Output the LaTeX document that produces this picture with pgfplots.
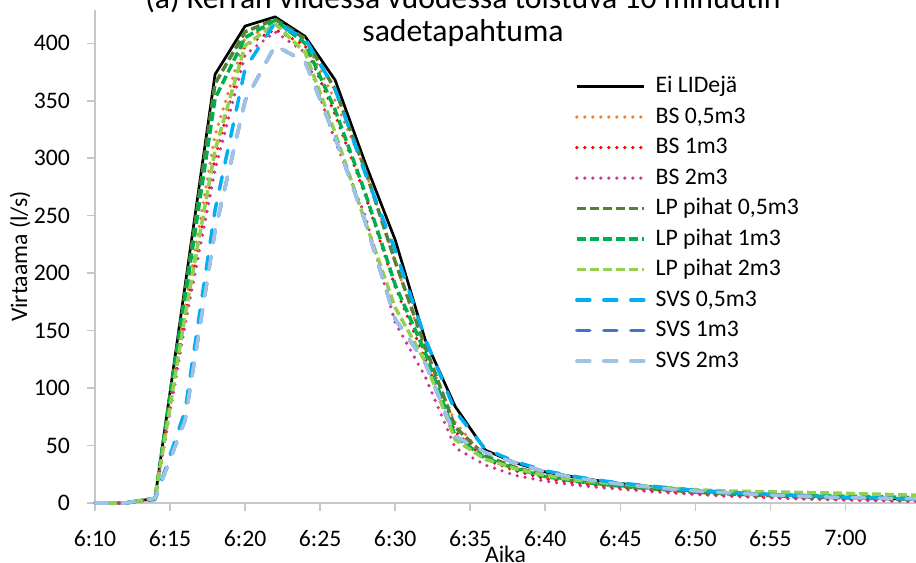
\documentclass[border=0pt]{standalone}
\usepackage{fontspec}
\setmainfont{Carlito}
\usepackage{pgfplots}
\pgfplotsset{compat=1.18}
\usepackage{pgfplotstable}

\definecolor{bsorange}{HTML}{ED7D31}
\definecolor{bsred}{HTML}{FF0000}
\definecolor{bspink}{HTML}{CC3399}
\definecolor{lpdark}{HTML}{548235}
\definecolor{lpgreen}{HTML}{00B050}
\definecolor{lplight}{HTML}{92D050}
\definecolor{svscyan}{HTML}{00B0F0}
\definecolor{svsblue}{HTML}{4472C4}
\definecolor{svslight}{HTML}{9DC3E6}

\newcommand{\axfont}{\fontsize{11.85bp}{14bp}\selectfont}
\newcommand{\ttlfont}{\fontsize{15.85bp}{18bp}\selectfont}

% t = minutes after 6:10
\pgfplotstableread{
t  ei   bs05 bs1  bs2  lp05 lp1  lp2  svs05 svs1 svs2
0  0    0    0    0    0    0    0    0     0    0
2  0    0    0    0    0    0    0    0     0    0
4  4    4    4    4    4    4    4    3     4    4
6  189  170  162  155  183  178  163  80    72   72
8  373  320  300  290  365  352  307  255   237  237
10 415  405  398  390  410  405  398  378   350  350
12 423  416  412  410  421  420  417  418   398  398
14 406  403  398  392  404  400  392  404   384  384
16 368  350  338  315  360  342  322  360   318  318
18 296  290  268  250  290  270  245  287   245  245
20 229  210  188  157  210  190  170  220   160  160
22 142  132  125  110  136  131  123  143   122  122
24 84   70   62   48   66   58   55   80    58   58
26 46   40   38   33   41   39   38   47    44   44
28 35   29   28   24   31   30   30   36    35   35
30 27   22   21   19   24   23   24   28    27   27
32 22.5 18   17   15.5 19.5 19   20   23    22   22
34 18.5 15   14   13   16   16   17.5 19    18   18
36 15.5 12.5 12   11   13.5 14   15.5 16    15   15
38 13   10.5 10   9    11.5 12   13.5 13.5  12.5 12.5
40 10.5 8.5  8    7.5  9.5  10.5 11.5 11    10.5 10.5
42 9    7    6.5  6    8    9    10.5 9.5   9    9
44 7.8  6    5.5  5    7    8    10   8     7.5  7.5
46 6.7  5    4.5  4    6    7    9.5  7     6.5  6.5
48 5.8  4    3.7  3.2  5    6.5  9    6     5.5  5.5
50 5    3.5  3    2.6  4.5  6    8.4  5     4.8  4.8
52 4.2  3    2.5  2    4    5.5  7.7  4.3   4.2  4.2
54 3.5  2.5  2    1.5  3.5  5    7    3.7   3.8  3.8
56 3    2    1.6  1.2  3    4.6  6.5  3.2   3.3  3.3
}\flow

\tikzset{
  eistyle/.style={black, line width=1.35bp, line join=round},
  bsstyle/.style={line width=1.8bp, line cap=round, line join=round, dash pattern=on 0bp off 4bp},
  lpstyle/.style={line width=1.75bp, line join=round, dash pattern=on 4.5bp off 2bp},
  svsstyle/.style={line width=1.75bp, line cap=round, line join=round, dash pattern=on 6.5bp off 7bp},
}

\begin{document}
\begin{tikzpicture}
\begin{axis}[
    at={(0,0)}, anchor=south west,
    scale only axis,
    width=410.5bp, height=246.5bp,
    xmin=0, xmax=54.7, ymin=0, ymax=429,
    clip=false,
    axis lines*=left,
    axis line style={draw=black!22, line width=0.8bp},
    tick style={draw=black!22, line width=0.8bp},
    tick align=outside,
    major tick length=4bp,
    xtick={0,5,...,50},
    xticklabels={6:10,6:15,6:20,6:25,6:30,6:35,6:40,6:45,6:50,6:55,7:00},
    ytick={0,50,...,400},
    /pgf/number format/assume math mode=true,
    tick label style={font=\axfont},
    xticklabel style={yshift=-6bp},
    yticklabel style={xshift=-5bp},
    xlabel={Aika},
    ylabel={Virtaama (l/s)},
    label style={font=\axfont},
    xlabel style={at={(axis description cs:0.5,0)}, anchor=center, yshift=-25.5bp},
    ylabel style={at={(axis description cs:-0.0913,0.5)}, anchor=center},
    legend cell align=left,
    legend image code/.code={\draw[#1] (0bp,0bp) -- (33.5bp,0bp); \path (38.5bp,0bp);},
    legend style={at={(0.5847,0.867)}, anchor=north west, draw=none, fill=none,
                  inner sep=0pt, outer sep=0pt, row sep=4.25bp, font=\axfont,
                  nodes={inner sep=0pt, text height=8.5bp, text depth=2.5bp}},
]
\addplot[eistyle] table[x=t,y=ei]{\flow};
\addplot[bsstyle, bsorange] table[x=t,y=bs05]{\flow};
\addplot[bsstyle, bsred] table[x=t,y=bs1]{\flow};
\addplot[bsstyle, bspink] table[x=t,y=bs2]{\flow};
\addplot[lpstyle, lpdark] table[x=t,y=lp05]{\flow};
\addplot[lpstyle, lpgreen] table[x=t,y=lp1]{\flow};
\addplot[lpstyle, lplight] table[x=t,y=lp2]{\flow};
\addplot[svsstyle, svscyan] table[x=t,y=svs05]{\flow};
\addplot[svsstyle, svsblue] table[x=t,y=svs1]{\flow};
\addplot[svsstyle, svslight] table[x=t,y=svs2]{\flow};
\legend{Ei LIDejä, {BS 0,5m3}, BS 1m3, BS 2m3, {LP pihat 0,5m3}, LP pihat 1m3,
        LP pihat 2m3, {SVS 0,5m3}, SVS 1m3, SVS 2m3}
\end{axis}
\node[font=\ttlfont, anchor=base] at (184bp,247bp) {(a) Kerran viidessä vuodessa toistuva 10 minuutin};
\node[font=\ttlfont, anchor=base] at (184bp,230.75bp) {sadetapahtuma};
\pgfresetboundingbox
\useasboundingbox (-47.5bp,-30bp) rectangle (410.5bp,251.5bp);
\end{tikzpicture}
\end{document}
